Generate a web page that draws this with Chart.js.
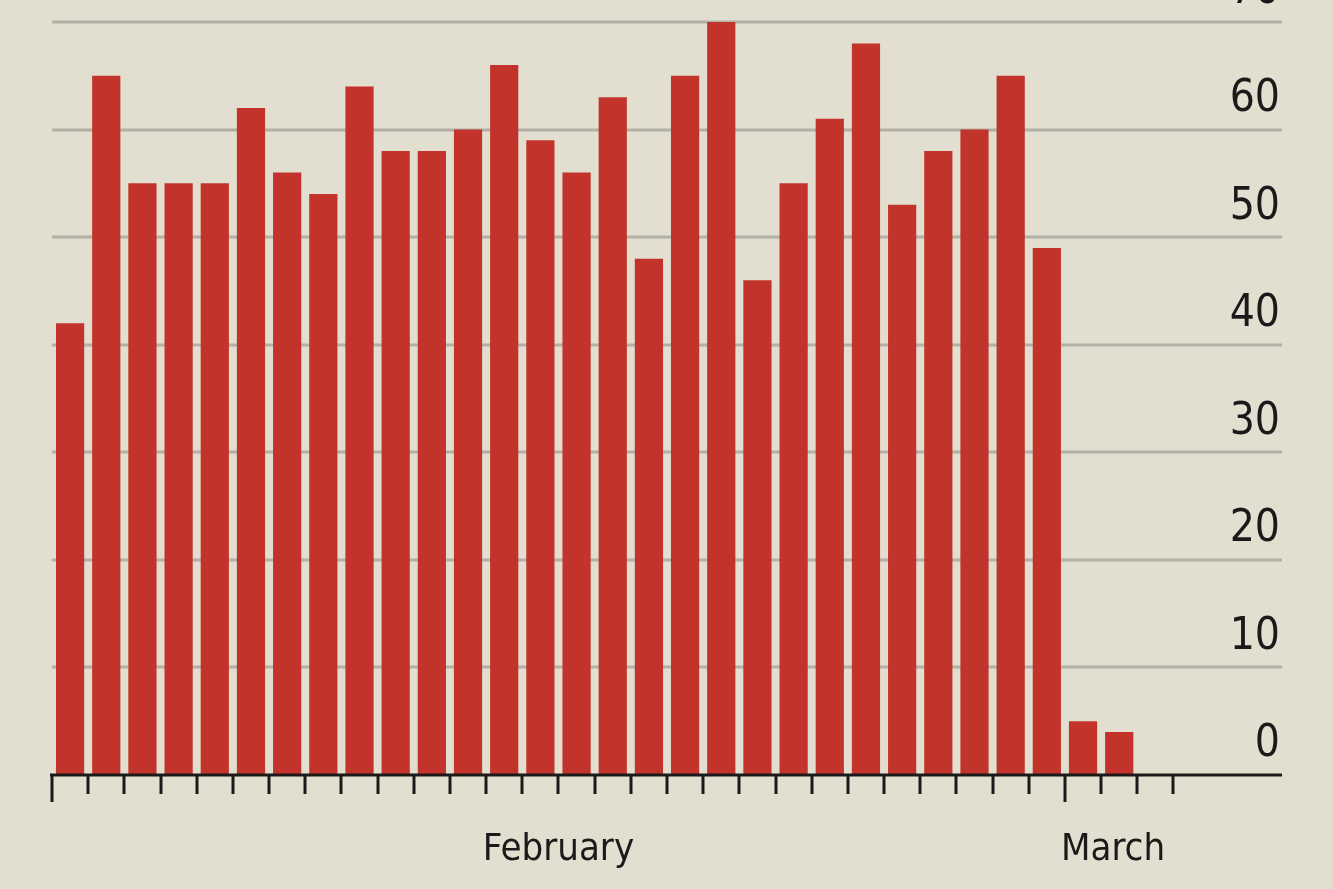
<!DOCTYPE html>
<html lang="en">
<head>
  <meta charset="UTF-8" />
  <title>Daily bars</title>
  <script src="https://cdn.jsdelivr.net/npm/chart.js"></script>
  <style>
    html, body { margin: 0; padding: 0; background: #e3dfd0; }
    #wrap { width: 1333px; height: 889px; }
  </style>
</head>
<body>
  <div id="wrap"><canvas id="c" width="1333" height="889"></canvas></div>
  <script>
    // Feb 1..28, Mar 1..6 (slots); only first two March days have values
    const days = [];
    for (let d = 1; d <= 28; d++) days.push('Feb ' + d);
    for (let d = 1; d <= 6; d++) days.push('Mar ' + d);
    const values = [42, 65, 55, 55, 55, 62, 56, 54, 64, 58, 58, 60, 66, 59, 56, 63, 48, 65, 70, 46,
                    55, 61, 68, 53, 58, 60, 65, 49, 5, 4, null, null, null, null];
    const yTicks = [0, 10, 20, 30, 40, 50, 60, 70];
    const monthLabels = [{ text: 'February', at: 14, align: 'center' }, { text: 'March', at: 28, align: 'left' }];
    const majorTicks = [0, 28];
    const lastTick = 31;

    const FONT = '"DejaVu Sans Condensed", "DejaVu Sans", sans-serif';

    const decor = {
      id: 'decor',
      beforeDatasetsDraw(chart) {
        const { ctx, chartArea: a, scales: { y } } = chart;
        ctx.save();
        ctx.strokeStyle = '#b3b0a6';
        ctx.lineWidth = 3;
        yTicks.forEach(v => {
          if (v === 0) return;
          const py = Math.round(y.getPixelForValue(v));
          ctx.beginPath(); ctx.moveTo(a.left, py); ctx.lineTo(a.right, py); ctx.stroke();
        });
        ctx.restore();
      },
      afterDatasetsDraw(chart) {
        const { ctx, chartArea: a, scales: { x, y } } = chart;
        const slot = (a.right - a.left) / days.length;
        ctx.save();
        // baseline
        const by = y.getPixelForValue(0);
        ctx.strokeStyle = '#1a1a1a';
        ctx.lineWidth = 3;
        ctx.beginPath(); ctx.moveTo(a.left - 2, by); ctx.lineTo(a.right, by); ctx.stroke();
        // tick marks at slot boundaries
        for (let i = 0; i <= lastTick; i++) {
          const px = Math.round(x.getPixelForValue(0) - slot / 2 + i * slot);
          const len = majorTicks.includes(i) ? 27 : 19;
          ctx.beginPath(); ctx.moveTo(px, by); ctx.lineTo(px, by + len); ctx.stroke();
        }
        // y labels
        ctx.fillStyle = '#1a1a1a';
        ctx.font = '44px ' + FONT;
        ctx.textAlign = 'right';
        ctx.textBaseline = 'bottom';
        yTicks.forEach(v => {
          ctx.fillText(String(v), 1280, y.getPixelForValue(v) - 8);
        });
        // month labels
        ctx.font = '38px ' + FONT;
        ctx.textBaseline = 'alphabetic';
        monthLabels.forEach(m => {
          ctx.textAlign = m.align;
          let px = x.getPixelForValue(0) - slot / 2 + m.at * slot;
          if (m.align === 'left') px -= 4;
          ctx.fillText(m.text, px, 860);
        });
        ctx.restore();
      }
    };

    new Chart(document.getElementById('c'), {
      type: 'bar',
      data: {
        labels: days,
        datasets: [{ data: values, backgroundColor: '#c1332b', barPercentage: 0.78, categoryPercentage: 1 }]
      },
      options: {
        responsive: false,
        animation: false,
        layout: { padding: { left: 52, right: 51, top: 22, bottom: 114 } },
        plugins: { legend: { display: false }, tooltip: { enabled: false } },
        scales: {
          x: { display: false, offset: true },
          y: { display: false, min: 0, max: 70 }
        }
      },
      plugins: [decor]
    });
  </script>
</body>
</html>
